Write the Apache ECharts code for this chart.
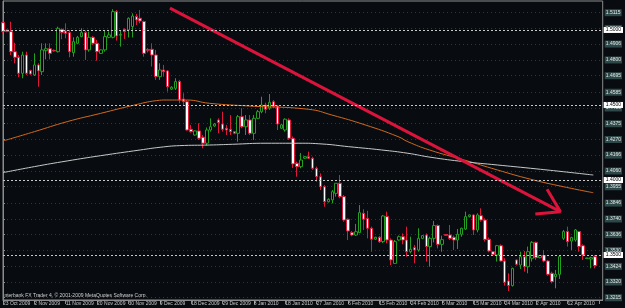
<!DOCTYPE html>
<html>
<head>
<meta charset="utf-8">
<script src="https://cdn.jsdelivr.net/npm/echarts@6/dist/echarts.min.js"></script>
<style>
    html, body { margin: 0; padding: 0; background: #080c10; }
    #chart { width: 625px; height: 308px; }
</style>
</head>
<body>
<div id="chart"></div>
<script>
// daily bars, 23 Oct 2009 .. mid Apr 2010
const opens = [
    1.5049, 1.5000, 1.4989, 1.4855, 1.4818, 1.4711, 1.4833, 1.4729, 1.4700, 1.4767,
    1.4722, 1.4862, 1.4875, 1.4864, 1.4855, 1.5004, 1.4993, 1.4982, 1.4849, 1.4911,
    1.4956, 1.4982, 1.4867, 1.4951, 1.4911, 1.4844, 1.4867, 1.4951, 1.4951, 1.5122,
    1.4965, 1.5004, 1.5000, 1.5022, 1.5089, 1.5078, 1.5056, 1.4870, 1.4871, 1.4833,
    1.4689, 1.4733, 1.4727, 1.4605, 1.4611, 1.4656, 1.4540, 1.4522, 1.4338, 1.4300,
    1.4327, 1.4285, 1.4245, 1.4333, 1.4360, 1.4400, 1.4373, 1.4345, 1.4338, 1.4322,
    1.4311, 1.4422, 1.4355, 1.4400, 1.4311, 1.4411, 1.4455, 1.4500, 1.4478, 1.4522,
    1.4493, 1.4345, 1.4333, 1.4400, 1.4278, 1.4111, 1.4089, 1.4145, 1.4155, 1.4145,
    1.4078, 1.4022, 1.3955, 1.3855, 1.3867, 1.3911, 1.3978, 1.3889, 1.3738, 1.3649,
    1.3633, 1.3649, 1.3778, 1.3744, 1.3678, 1.3605, 1.3618, 1.3589, 1.3756, 1.3600,
    1.3444, 1.3600, 1.3622, 1.3600, 1.3522, 1.3549, 1.3533, 1.3611, 1.3633, 1.3556,
    1.3611, 1.3696, 1.3571, 1.3636, 1.3633, 1.3618, 1.3600, 1.3638, 1.3673, 1.3756,
    1.3767, 1.3667, 1.3762, 1.3733, 1.3604, 1.3522, 1.3500, 1.3562, 1.3460, 1.3327,
    1.3296, 1.3467, 1.3433, 1.3489, 1.3422, 1.3478, 1.3584, 1.3482, 1.3496, 1.3460,
    1.3378, 1.3356, 1.3371, 1.3611, 1.3656, 1.3593, 1.3600, 1.3656, 1.3562, 1.3476,
    1.3473, 1.3489
];
const closes = [
    1.4989, 1.4989, 1.4855, 1.4818, 1.4711, 1.4833, 1.4711, 1.4707, 1.4767, 1.4727,
    1.4867, 1.4875, 1.4844, 1.4860, 1.5011, 1.4984, 1.4978, 1.4855, 1.4922, 1.4951,
    1.4982, 1.4867, 1.4951, 1.4911, 1.4855, 1.4867, 1.4956, 1.4967, 1.5122, 1.4960,
    1.4970, 1.4989, 1.5078, 1.5093, 1.5067, 1.5060, 1.4844, 1.4865, 1.4833, 1.4689,
    1.4733, 1.4722, 1.4622, 1.4618, 1.4656, 1.4533, 1.4522, 1.4333, 1.4322, 1.4327,
    1.4278, 1.4245, 1.4333, 1.4355, 1.4373, 1.4382, 1.4338, 1.4333, 1.4322, 1.4311,
    1.4422, 1.4355, 1.4400, 1.4311, 1.4411, 1.4455, 1.4500, 1.4471, 1.4518, 1.4489,
    1.4373, 1.4367, 1.4405, 1.4278, 1.4107, 1.4089, 1.4133, 1.4155, 1.4145, 1.4078,
    1.4022, 1.3955, 1.3855, 1.3871, 1.3922, 1.3978, 1.3889, 1.3733, 1.3660, 1.3633,
    1.3655, 1.3782, 1.3738, 1.3678, 1.3605, 1.3618, 1.3589, 1.3760, 1.3600, 1.3467,
    1.3589, 1.3622, 1.3600, 1.3522, 1.3538, 1.3533, 1.3611, 1.3629, 1.3556, 1.3611,
    1.3696, 1.3571, 1.3602, 1.3631, 1.3611, 1.3600, 1.3638, 1.3678, 1.3756, 1.3767,
    1.3667, 1.3767, 1.3733, 1.3604, 1.3527, 1.3504, 1.3562, 1.3460, 1.3318, 1.3296,
    1.3411, 1.3438, 1.3489, 1.3422, 1.3522, 1.3584, 1.3482, 1.3496, 1.3460, 1.3371,
    1.3322, 1.3371, 1.3489, 1.3656, 1.3589, 1.3616, 1.3667, 1.3556, 1.3500, 1.3480,
    1.3482, 1.3429
];
const lows = [
    1.4980, 1.4985, 1.4833, 1.4778, 1.4685, 1.4678, 1.4700, 1.4700, 1.4693, 1.4622,
    1.4700, 1.4804, 1.4804, 1.4855, 1.4850, 1.4938, 1.4944, 1.4818, 1.4822, 1.4905,
    1.4951, 1.4800, 1.4855, 1.4900, 1.4795, 1.4840, 1.4855, 1.4945, 1.4944, 1.4929,
    1.4889, 1.4940, 1.4950, 1.4950, 1.5033, 1.5044, 1.4822, 1.4850, 1.4756, 1.4667,
    1.4667, 1.4689, 1.4589, 1.4600, 1.4600, 1.4511, 1.4500, 1.4329, 1.4315, 1.4295,
    1.4267, 1.4211, 1.4230, 1.4322, 1.4355, 1.4311, 1.4322, 1.4300, 1.4300, 1.4305,
    1.4255, 1.4345, 1.4300, 1.4300, 1.4267, 1.4405, 1.4445, 1.4445, 1.4467, 1.4478,
    1.4333, 1.4340, 1.4322, 1.4267, 1.4080, 1.4022, 1.4078, 1.4140, 1.4140, 1.4067,
    1.3989, 1.3933, 1.3822, 1.3850, 1.3844, 1.3889, 1.3878, 1.3722, 1.3600, 1.3625,
    1.3627, 1.3645, 1.3667, 1.3611, 1.3522, 1.3600, 1.3580, 1.3580, 1.3578, 1.3433,
    1.3444, 1.3595, 1.3571, 1.3489, 1.3511, 1.3444, 1.3522, 1.3605, 1.3456, 1.3422,
    1.3584, 1.3544, 1.3522, 1.3627, 1.3600, 1.3533, 1.3540, 1.3622, 1.3667, 1.3750,
    1.3633, 1.3651, 1.3722, 1.3589, 1.3518, 1.3500, 1.3456, 1.3456, 1.3296, 1.3260,
    1.3290, 1.3430, 1.3407, 1.3389, 1.3378, 1.3456, 1.3467, 1.3478, 1.3451, 1.3362,
    1.3311, 1.3278, 1.3340, 1.3600, 1.3556, 1.3533, 1.3589, 1.3522, 1.3467, 1.3474,
    1.3411, 1.3411
];
const highs = [
    1.5060, 1.5004, 1.5055, 1.4915, 1.4833, 1.4855, 1.4855, 1.4735, 1.4844, 1.4778,
    1.4911, 1.4911, 1.4911, 1.4870, 1.5022, 1.5011, 1.5044, 1.5000, 1.4951, 1.4960,
    1.5011, 1.4996, 1.4989, 1.4960, 1.4933, 1.4870, 1.4996, 1.4990, 1.5138, 1.5133,
    1.4996, 1.5011, 1.5084, 1.5111, 1.5107, 1.5133, 1.5062, 1.4880, 1.4911, 1.4867,
    1.4778, 1.4767, 1.4733, 1.4625, 1.4678, 1.4667, 1.4578, 1.4533, 1.4367, 1.4330,
    1.4378, 1.4300, 1.4350, 1.4411, 1.4380, 1.4411, 1.4455, 1.4367, 1.4433, 1.4325,
    1.4433, 1.4478, 1.4433, 1.4433, 1.4433, 1.4467, 1.4555, 1.4515, 1.4573, 1.4533,
    1.4500, 1.4375, 1.4411, 1.4411, 1.4290, 1.4122, 1.4180, 1.4160, 1.4189, 1.4155,
    1.4089, 1.4044, 1.3967, 1.3878, 1.3933, 1.3978, 1.4033, 1.3900, 1.3744, 1.3660,
    1.3707, 1.3833, 1.3805, 1.3795, 1.3689, 1.3622, 1.3627, 1.3767, 1.3789, 1.3611,
    1.3600, 1.3630, 1.3644, 1.3689, 1.3622, 1.3567, 1.3678, 1.3633, 1.3644, 1.3622,
    1.3727, 1.3704, 1.3629, 1.3640, 1.3700, 1.3629, 1.3673, 1.3682, 1.3789, 1.3770,
    1.3771, 1.3778, 1.3811, 1.3744, 1.3616, 1.3525, 1.3567, 1.3571, 1.3478, 1.3378,
    1.3415, 1.3470, 1.3522, 1.3527, 1.3556, 1.3593, 1.3589, 1.3500, 1.3533, 1.3467,
    1.3389, 1.3400, 1.3489, 1.3667, 1.3689, 1.3622, 1.3673, 1.3660, 1.3571, 1.3482,
    1.3489, 1.3500
];

// bar-index positions, 8 bars between date labels
const xTickLabels = [
    "23 Oct 2009", "2 Nov 2009", "11 Nov 2009", "20 Nov 2009", "30 Nov 2009",
    "9 Dec 2009", "18 Dec 2009", "29 Dec 2009", "8 Jan 2010", "18 Jan 2010",
    "27 Jan 2010", "6 Feb 2010", "15 Feb 2010", "24 Feb 2010", "5 Mar 2010",
    "15 Mar 2010", "24 Mar 2010", "2 Apr 2010", "12 Apr 2010"
];
const yTicks = [
    1.3215, 1.3320, 1.3424, 1.3530, 1.3636, 1.3740, 1.3846, 1.3955, 1.4060, 1.4166,
    1.4270, 1.4375, 1.4480, 1.4585, 1.4695, 1.4800, 1.4906, 1.5010, 1.5115
];
const levelLines = [1.5000, 1.4500, 1.4000, 1.3500];

// moving averages, [bar index, price]
const maOrange = [
    [0, 1.4260], [8, 1.4322], [16.4, 1.4389], [24.9, 1.4444], [33.3, 1.4498],
    [39.2, 1.4529], [41.7, 1.4533], [46.8, 1.4533], [52.7, 1.4511], [62.8, 1.4493],
    [78, 1.4471], [83.9, 1.4433], [92.4, 1.4367], [100.8, 1.4289], [103.3, 1.4255],
    [108.8, 1.4200], [117.7, 1.4133], [126.1, 1.4067], [134.6, 1.4005], [143, 1.3955],
    [150.6, 1.3915]
];
const maGrey = [
    [0, 1.4049], [8, 1.4089], [16.4, 1.4127], [24.9, 1.4162], [35, 1.4200],
    [40.1, 1.4218], [45.1, 1.4229], [52.7, 1.4233], [58.6, 1.4238], [67.1, 1.4245],
    [75.5, 1.4245], [81.4, 1.4240], [88.2, 1.4222], [96.6, 1.4200], [103.3, 1.4178],
    [109.2, 1.4151], [117.7, 1.4122], [126.1, 1.4100], [134.6, 1.4078], [143, 1.4055],
    [150.6, 1.4033]
];

// hand drawn trend arrow
const trendLine = [[42.6, 1.5145], [142.2, 1.3789]];
const arrowHead = [[138.8, 1.3938], [142.2, 1.3789], [135.8, 1.3773]];

const categories = Array.from({ length: 154 }, (_, i) => String(i));
const candleData = opens.map((o, i) => [o, closes[i], lows[i], highs[i]]);

const chart = echarts.init(document.getElementById("chart"));

const option = {
    backgroundColor: "#080c10",
    animation: false,
    grid: {
        left: 1.5,
        top: 1,
        width: 604.5,
        height: 299,
        show: true,
        borderColor: "#8c8c8c",
        borderWidth: 1
    },
    xAxis: [
        {
            type: "category",
            data: categories,
            boundaryGap: false,
            axisLine: { lineStyle: { color: "#8c8c8c" } },
            axisTick: { interval: 7, length: 4, lineStyle: { color: "#8c8c8c" } },
            axisLabel: {
                interval: 7,
                align: "left",
                margin: 1,
                fontSize: 5,
                fontFamily: "Liberation Sans",
                color: "#c8c8c8",
                formatter: (v, i) => xTickLabels[i / 8] || ""
            },
            splitLine: { show: false }
        },
        { type: "value", min: 0, max: 153, show: false }
    ],
    yAxis: {
        type: "value",
        position: "right",
        min: 1.32,
        max: 1.5193,
        axisLine: { show: true, lineStyle: { color: "#8c8c8c" } },
        axisTick: { show: true, customValues: yTicks, length: 2, lineStyle: { color: "#8c8c8c" } },
        axisLabel: {
            customValues: yTicks,
            margin: 2,
            fontSize: 5,
            fontFamily: "Liberation Sans",
            color: "#e6e6e6",
            backgroundColor: "#2d4848",
            padding: [2, 1, 0, 1],
            formatter: v => v.toFixed(4)
        },
        splitLine: { show: true, lineStyle: { color: "#30363c", type: [1, 3] } }
    },
    graphic: [
        {
            type: "text",
            left: 3,
            top: 293,
            style: {
                text: "Interbank FX Trader 4, © 2001-2009 MetaQuotes Software Corp.",
                fill: "#d0d0d0",
                font: "5px 'Liberation Sans'"
            }
        }
    ],
    series: [
        {
            type: "candlestick",
            data: candleData,
            barWidth: 3,
            clip: false,
            itemStyle: {
                color: "#000000",
                color0: "#ffffff",
                borderColor: "#22a022",
                borderColor0: "#e0183c",
                borderWidth: 1
            },
            markLine: {
                silent: true,
                symbol: "none",
                lineStyle: { color: "#c8c8c8", type: [2, 2], width: 1 },
                label: {
                    position: "end",
                    distance: 1,
                    fontSize: 5,
                    fontFamily: "Liberation Sans",
                    color: "#000000",
                    backgroundColor: "#ffffff",
                    padding: [1, 2, 0, 2],
                    formatter: p => p.value.toFixed(4)
                },
                data: levelLines.map(v => ({ yAxis: v }))
            }
        },
        {
            type: "line",
            xAxisIndex: 1,
            data: maOrange,
            symbol: "none",
            smooth: true,
            lineStyle: { color: "#d2691e", width: 1 },
            z: 3
        },
        {
            type: "line",
            xAxisIndex: 1,
            data: maGrey,
            symbol: "none",
            smooth: true,
            lineStyle: { color: "#c8c8c8", width: 1 },
            z: 3
        },
        {
            type: "line",
            xAxisIndex: 1,
            data: trendLine,
            symbol: "none",
            lineStyle: { color: "#dc143c", width: 3 },
            z: 4
        },
        {
            type: "line",
            xAxisIndex: 1,
            data: arrowHead,
            symbol: "none",
            lineStyle: { color: "#dc143c", width: 3 },
            z: 4
        }
    ]
};

chart.setOption(option);
</script>
</body>
</html>
